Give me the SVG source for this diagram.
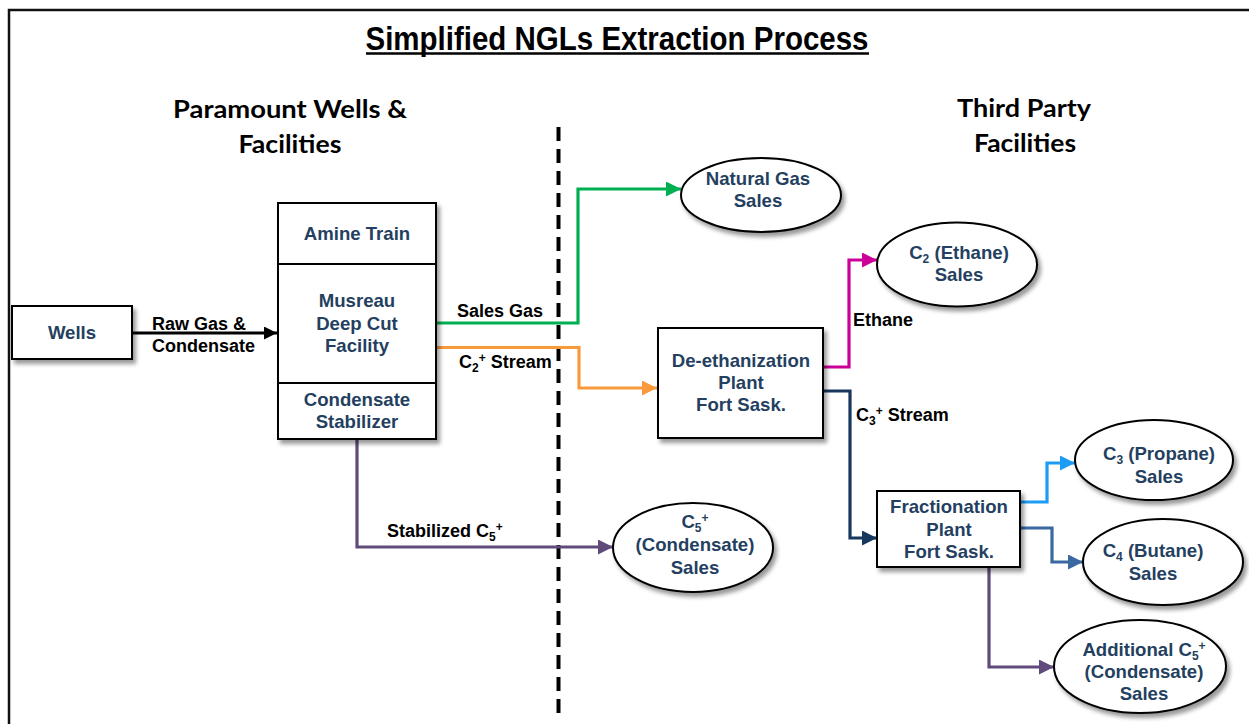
<svg xmlns="http://www.w3.org/2000/svg" width="1249" height="724" viewBox="0 0 1249 724">
<defs>
<style>
.box{fill:#fff;stroke:#000;stroke-width:2}
.nt{font-family:"Liberation Sans",Arial,sans-serif;font-weight:bold;font-size:18.6px;fill:#243F60;text-anchor:middle}
.lb{font-family:"Liberation Sans",Arial,sans-serif;font-weight:bold;font-size:18px;fill:#000}
.hd{font-family:Lato,"Open Sans",sans-serif;font-weight:bold;font-size:25px;fill:#000;text-anchor:middle}
.ln{fill:none;stroke-width:3.2}
.sm{font-size:12px}
</style>
<filter id="sh" x="-10%" y="-10%" width="130%" height="140%">
<feDropShadow dx="3" dy="4" stdDeviation="2" flood-color="#000" flood-opacity="0.4"/>
</filter>
<marker id="aBk" viewBox="0 0 10 10" refX="10" refY="5" markerWidth="13" markerHeight="13" markerUnits="userSpaceOnUse" orient="auto"><path d="M0,0L10,5L0,10Z" fill="#000"/></marker>
<marker id="aGr" viewBox="0 0 10 10" refX="10" refY="5" markerWidth="15" markerHeight="15" markerUnits="userSpaceOnUse" orient="auto"><path d="M0,0L10,5L0,10Z" fill="#00B050"/></marker>
<marker id="aOr" viewBox="0 0 10 10" refX="10" refY="5" markerWidth="15" markerHeight="15" markerUnits="userSpaceOnUse" orient="auto"><path d="M0,0L10,5L0,10Z" fill="#F89A3C"/></marker>
<marker id="aMg" viewBox="0 0 10 10" refX="10" refY="5" markerWidth="15" markerHeight="15" markerUnits="userSpaceOnUse" orient="auto"><path d="M0,0L10,5L0,10Z" fill="#CC0099"/></marker>
<marker id="aNv" viewBox="0 0 10 10" refX="10" refY="5" markerWidth="15" markerHeight="15" markerUnits="userSpaceOnUse" orient="auto"><path d="M0,0L10,5L0,10Z" fill="#17375E"/></marker>
<marker id="aLb" viewBox="0 0 10 10" refX="10" refY="5" markerWidth="15" markerHeight="15" markerUnits="userSpaceOnUse" orient="auto"><path d="M0,0L10,5L0,10Z" fill="#1C9CF4"/></marker>
<marker id="aSb" viewBox="0 0 10 10" refX="10" refY="5" markerWidth="15" markerHeight="15" markerUnits="userSpaceOnUse" orient="auto"><path d="M0,0L10,5L0,10Z" fill="#3A68A0"/></marker>
<marker id="aPu" viewBox="0 0 10 10" refX="10" refY="5" markerWidth="15" markerHeight="15" markerUnits="userSpaceOnUse" orient="auto"><path d="M0,0L10,5L0,10Z" fill="#604A7B"/></marker>
</defs>
<rect width="1249" height="724" fill="#fff"/>
<path d="M9,724V10H1249" fill="none" stroke="#111" stroke-width="2.5"/>

<g id="title">
<text x="617" y="50" font-family="'Liberation Sans',Arial,sans-serif" font-weight="bold" font-size="33" text-anchor="middle" textLength="503" lengthAdjust="spacingAndGlyphs">Simplified NGLs Extraction Process</text>
<line x1="366" y1="53.5" x2="869" y2="53.5" stroke="#000" stroke-width="2.5"/>
</g>
<g id="headings">
<text class="hd" x="290" y="118" textLength="234" lengthAdjust="spacingAndGlyphs">Paramount Wells &amp;</text>
<text class="hd" x="290" y="153" textLength="103" lengthAdjust="spacingAndGlyphs">Facilities</text>
<text class="hd" x="1024" y="117" textLength="134" lengthAdjust="spacingAndGlyphs">Third Party</text>
<text class="hd" x="1025" y="152" textLength="102" lengthAdjust="spacingAndGlyphs">Facilities</text>
</g>
<line id="divider" x1="558.5" y1="127" x2="558.5" y2="716" stroke="#000" stroke-width="4" stroke-dasharray="14,8"/>

<g id="connectors">
<path class="ln" d="M132,333H277" stroke="#000" marker-end="url(#aBk)"/>
<path class="ln" d="M437,323H578V189H681" stroke="#00B050" marker-end="url(#aGr)"/>
<path class="ln" d="M437,347.5H579V388H657" stroke="#F89A3C" marker-end="url(#aOr)"/>
<path class="ln" d="M824,367H849V260H877" stroke="#CC0099" marker-end="url(#aMg)"/>
<path class="ln" d="M824,391H850V538H877" stroke="#17375E" marker-end="url(#aNv)"/>
<path class="ln" d="M1021,502H1047V463H1075" stroke="#1C9CF4" marker-end="url(#aLb)"/>
<path class="ln" d="M1021,528H1052V562H1083" stroke="#3A68A0" marker-end="url(#aSb)"/>
<path class="ln" d="M989,568V667H1054" stroke="#604A7B" marker-end="url(#aPu)"/>
<path class="ln" d="M357,440V547H613" stroke="#604A7B" marker-end="url(#aPu)"/>
<text class="lb" x="152" y="330">Raw Gas &amp;</text>
<text class="lb" x="152" y="352">Condensate</text>
<text class="lb" x="457" y="317">Sales Gas</text>
<text class="lb" x="459" y="368">C<tspan class="sm" dy="4">2</tspan><tspan class="sm" dy="-10">+</tspan><tspan dy="6"> Stream</tspan></text>
<text class="lb" x="853" y="326">Ethane</text>
<text class="lb" x="856" y="421">C<tspan class="sm" dy="4">3</tspan><tspan class="sm" dy="-10">+</tspan><tspan dy="6"> Stream</tspan></text>
<text class="lb" x="387" y="537">Stabilized C<tspan class="sm" dy="4">5</tspan><tspan class="sm" dy="-10">+</tspan></text>
</g>

<g id="wells">
<rect class="box" x="12" y="306" width="120" height="53" filter="url(#sh)"/>
<text class="nt" x="72" y="339">Wells</text>
</g>
<g id="facility">
<rect class="box" x="278" y="203" width="158" height="236" filter="url(#sh)"/>
<line x1="278" y1="264" x2="436" y2="264" stroke="#000" stroke-width="2"/>
<line x1="278" y1="383" x2="436" y2="383" stroke="#000" stroke-width="2"/>
<text class="nt" x="357" y="240">Amine Train</text>
<text class="nt" x="357" y="307">Musreau</text>
<text class="nt" x="357" y="330">Deep Cut</text>
<text class="nt" x="357" y="352">Facility</text>
<text class="nt" x="357" y="406">Condensate</text>
<text class="nt" x="357" y="428">Stabilizer</text>
</g>
<g id="natgas">
<ellipse class="box" cx="761" cy="195" rx="80" ry="37" filter="url(#sh)"/>
<text class="nt" x="758" y="185">Natural Gas</text>
<text class="nt" x="758" y="207">Sales</text>
</g>
<g id="deethan">
<rect class="box" x="658" y="328" width="165" height="110" filter="url(#sh)"/>
<text class="nt" x="741" y="367">De-ethanization</text>
<text class="nt" x="741" y="389">Plant</text>
<text class="nt" x="741" y="411">Fort Sask.</text>
</g>
<g id="ethane">
<ellipse class="box" cx="957" cy="264.5" rx="80" ry="42" filter="url(#sh)"/>
<text class="nt" x="959" y="259">C<tspan class="sm" dy="4">2</tspan><tspan dy="-4"> (Ethane)</tspan></text>
<text class="nt" x="959" y="281">Sales</text>
</g>
<g id="frac">
<rect class="box" x="877" y="491" width="143" height="76" filter="url(#sh)"/>
<text class="nt" x="949" y="513">Fractionation</text>
<text class="nt" x="949" y="536">Plant</text>
<text class="nt" x="949" y="558">Fort Sask.</text>
</g>
<g id="propane">
<ellipse class="box" cx="1154" cy="460" rx="79" ry="40" filter="url(#sh)"/>
<text class="nt" x="1159" y="460">C<tspan class="sm" dy="4">3</tspan><tspan dy="-4"> (Propane)</tspan></text>
<text class="nt" x="1159" y="483">Sales</text>
</g>
<g id="butane">
<ellipse class="box" cx="1163" cy="562" rx="80" ry="43" filter="url(#sh)"/>
<text class="nt" x="1153" y="557">C<tspan class="sm" dy="4">4</tspan><tspan dy="-4"> (Butane)</tspan></text>
<text class="nt" x="1153" y="580">Sales</text>
</g>
<g id="addc5">
<ellipse class="box" cx="1140" cy="666.5" rx="86" ry="46.5" filter="url(#sh)"/>
<text class="nt" x="1144" y="656">Additional C<tspan class="sm" dy="4">5</tspan><tspan class="sm" dy="-10">+</tspan></text>
<text class="nt" x="1144" y="678">(Condensate)</text>
<text class="nt" x="1144" y="700">Sales</text>
</g>
<g id="c5sales">
<ellipse class="box" cx="693" cy="547.5" rx="80" ry="44.5" filter="url(#sh)"/>
<text class="nt" x="695" y="528">C<tspan class="sm" dy="4">5</tspan><tspan class="sm" dy="-10">+</tspan></text>
<text class="nt" x="695" y="551">(Condensate)</text>
<text class="nt" x="695" y="574">Sales</text>
</g>
</svg>
